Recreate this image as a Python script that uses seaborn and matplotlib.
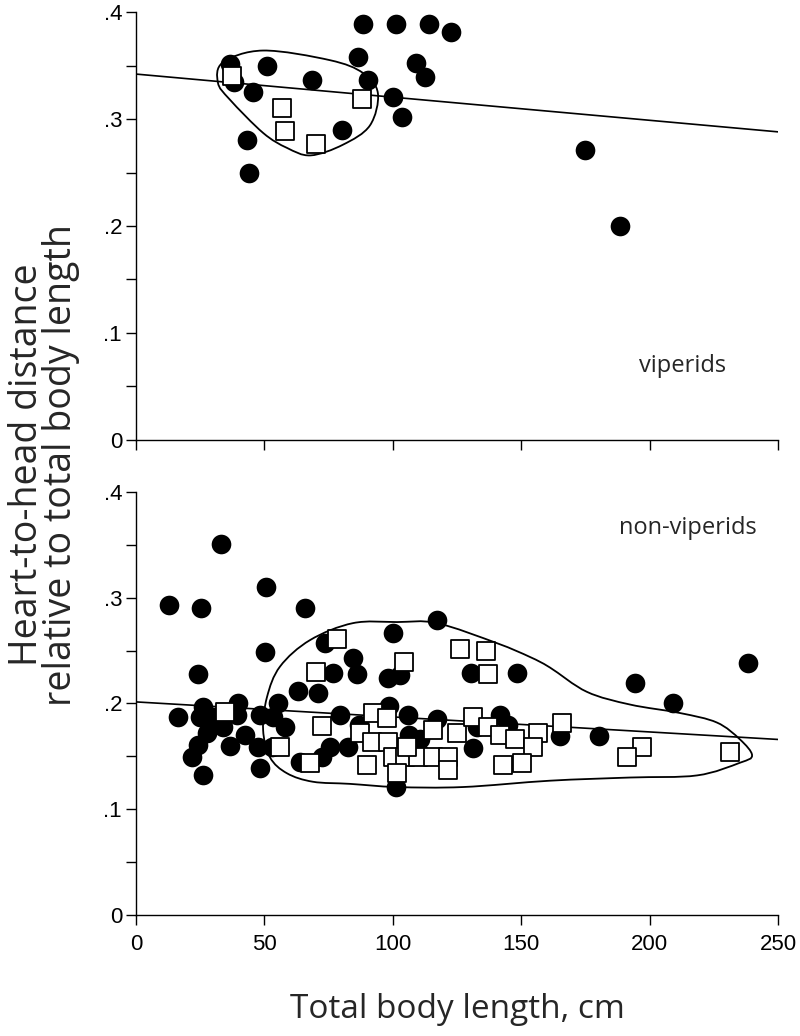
import numpy as np
import matplotlib
matplotlib.use("Agg")
import matplotlib.pyplot as plt
from matplotlib.path import Path
from matplotlib.patches import PathPatch
from matplotlib.ticker import MultipleLocator, FuncFormatter
import seaborn as sns

# ─── Viperids (top panel) ───────────────────────────────────────────
vip_circ_x = [36.6, 38.2, 45.6, 51.0, 68.5, 43.2, 44.0, 80.2, 86.4, 88.4,
              90.3, 100.0, 101.2, 103.6, 109.0, 112.5, 114.1, 122.7, 174.8, 188.5]
vip_circ_y = [.351, .335, .325, .350, .336, .280, .250, .290, .358, .389,
              .336, .321, .389, .302, .352, .339, .389, .381, .271, .200]
vip_sq_x = [37.4, 56.9, 58.0, 70.0, 88.0]
vip_sq_y = [.340, .310, .289, .277, .319]
vip_fit_x = [0, 250]
vip_fit_y = [.342, .288]
vip_hull_x = [31.9, 33.9, 49.5, 75.5, 88.4, 94.2, 91.1, 80.6, 68.0, 58.8, 49.5, 36.6]
vip_hull_y = [.334, .353, .364, .355, .343, .324, .294, .276, .266, .273, .287, .318]

# ─── Non-viperids (bottom panel) ────────────────────────────────────
nv_circ_x = [12.9, 25.3, 33.1, 50.6, 50.2, 65.8, 24.1, 63.1, 70.9,
             16.4, 26.1, 24.9, 30.0, 39.7, 39.3, 48.3, 55.3, 53.3, 58.0, 33.9,
             27.6, 42.4, 36.6, 24.1, 47.5, 53.0, 21.8, 48.3, 26.1,
             75.5, 72.4, 63.9,
             117.2, 100.0, 73.6, 84.5, 76.7, 86.0, 98.1, 102.8, 130.5, 148.4,
             79.4, 98.5, 106.0, 117.2, 86.8, 106.3, 110.6, 82.6, 101.2,
             141.7, 132.8, 144.7, 131.2, 165.1, 180.3, 194.3, 209.0, 238.3]
nv_circ_y = [.293, .290, .351, .310, .249, .290, .228, .212, .210,
             .187, .197, .187, .187, .200, .189, .189, .200, .187, .178, .178,
             .172, .170, .160, .161, .159, .159, .149, .139, .132,
             .159, .149, .145,
             .279, .267, .257, .243, .229, .228, .224, .227, .229, .229,
             .189, .198, .189, .185, .180, .170, .166, .159, .121,
             .189, .178, .180, .158, .169, .169, .219, .200, .238]
nv_sq_x = [34.7, 56.0, 67.8, 72.5, 70.0, 78.3, 104.4,
           92.3, 97.7, 87.2, 91.9, 98.1, 90.0, 100.1, 104.8, 109.8, 115.7, 121.5,
           101.6, 121.5, 105.5, 115.7,
           126.2, 136.3, 137.1, 125.0, 131.2, 137.1, 141.7, 147.6, 156.5, 165.9,
           154.6, 142.9, 150.3,
           197.0, 191.2, 231.3]
nv_sq_y = [.192, .159, .144, .179, .230, .261, .239,
           .191, .186, .172, .164, .164, .142, .149, .149, .149, .149, .149,
           .134, .137, .159, .175,
           .252, .250, .228, .172, .187, .178, .170, .166, .172, .182,
           .159, .142, .144,
           .159, .149, .154]
nv_fit_x = [0, 250]
nv_fit_y = [.2015, .166]
nv_hull_x = [52.2, 49.5, 51.0, 56.1, 67.8, 84.5, 101.6, 117.2, 140.6, 153.4, 161.2,
             175.6, 192.4, 211.8, 226.2, 235.2, 239.9, 235.2, 218.5, 192.4, 161.2,
             127.3, 101.6, 83.3, 68.9, 58.8]
nv_hull_y = [.149, .175, .206, .235, .260, .276, .277, .276, .257, .244, .234,
             .211, .199, .191, .182, .166, .151, .144, .132, .130, .127,
             .121, .121, .124, .126, .134]

LABEL_FONT = ["Open Sans", "DejaVu Sans"]


def closed_outline(ax, xs, ys):
    # smooth closed curve through the outline points (Catmull-Rom -> Bezier)
    pts = np.column_stack([xs, ys])
    n = len(pts)
    verts = [pts[0]]
    codes = [Path.MOVETO]
    for i in range(n):
        p0, p1, p2, p3 = pts[i - 1], pts[i], pts[(i + 1) % n], pts[(i + 2) % n]
        verts += [p1 + (p2 - p0) / 6, p2 - (p3 - p1) / 6, p2]
        codes += [Path.CURVE4] * 3
    ax.add_patch(PathPatch(Path(verts, codes), facecolor="none",
                           edgecolor="black", lw=1.3, zorder=2))


def draw_panel(ax, cx, cy, sx, sy, fx, fy, hx, hy):
    sns.scatterplot(x=cx, y=cy, ax=ax, marker="o", color="black",
                    s=200, linewidth=0, zorder=3)
    sns.scatterplot(x=sx, y=sy, ax=ax, marker="s", color="white",
                    edgecolor="black", s=170, linewidth=1.3, zorder=4)
    sns.lineplot(x=fx, y=fy, ax=ax, color="black", lw=1.2, zorder=2)
    closed_outline(ax, hx, hy)

    ax.set_xlim(0, 250)
    ax.set_ylim(0, 0.4)
    ax.xaxis.set_major_locator(MultipleLocator(50))
    ax.yaxis.set_major_locator(MultipleLocator(0.1))
    ax.yaxis.set_minor_locator(MultipleLocator(0.05))
    ax.yaxis.set_major_formatter(FuncFormatter(
        lambda v, _: "0" if abs(v) < 1e-9 else f"{v:.1f}".lstrip("0")))
    ax.tick_params(which="both", direction="out", length=7, width=1.0,
                   color="black", labelsize=16, labelcolor="black")
    ax.tick_params(axis="y", which="both", pad=3)
    ax.tick_params(axis="x", pad=7)
    sns.despine(ax=ax)
    for sp in ("left", "bottom"):
        ax.spines[sp].set_color("black")
        ax.spines[sp].set_linewidth(1.0)
    ax.set_xlabel("")
    ax.set_ylabel("")


sns.set_theme(style="ticks")
plt.rcParams["font.family"] = ["Liberation Sans", "DejaVu Sans"]

fig = plt.figure(figsize=(8, 10.36), dpi=100)
ax_top = fig.add_axes([0.17, 0.5753, 0.8025, 0.4131])
ax_bot = fig.add_axes([0.17, 0.1168, 0.8025, 0.4083])

draw_panel(ax_top, vip_circ_x, vip_circ_y, vip_sq_x, vip_sq_y,
           vip_fit_x, vip_fit_y, vip_hull_x, vip_hull_y)
draw_panel(ax_bot, nv_circ_x, nv_circ_y, nv_sq_x, nv_sq_y,
           nv_fit_x, nv_fit_y, nv_hull_x, nv_hull_y)
ax_top.tick_params(labelbottom=False)

ax_top.text(213, 0.069, "viperids", ha="center", va="center",
            fontsize=17, family="Open Sans")
ax_bot.text(215, 0.366, "non-viperids", ha="center", va="center",
            fontsize=17, family="Open Sans")

fig.text(457 / 800, 1 - 1010 / 1036, "Total body length, cm",
         ha="center", va="center", fontsize=24, family="Open Sans")
fig.text(0.055, 1 - 465 / 1036, "Heart-to-head distance\nrelative to total body length",
         rotation=90, ha="center", va="center", multialignment="center",
         fontsize=27, linespacing=0.85, family=LABEL_FONT)

fig.savefig("out.png", dpi=100, facecolor="white")
